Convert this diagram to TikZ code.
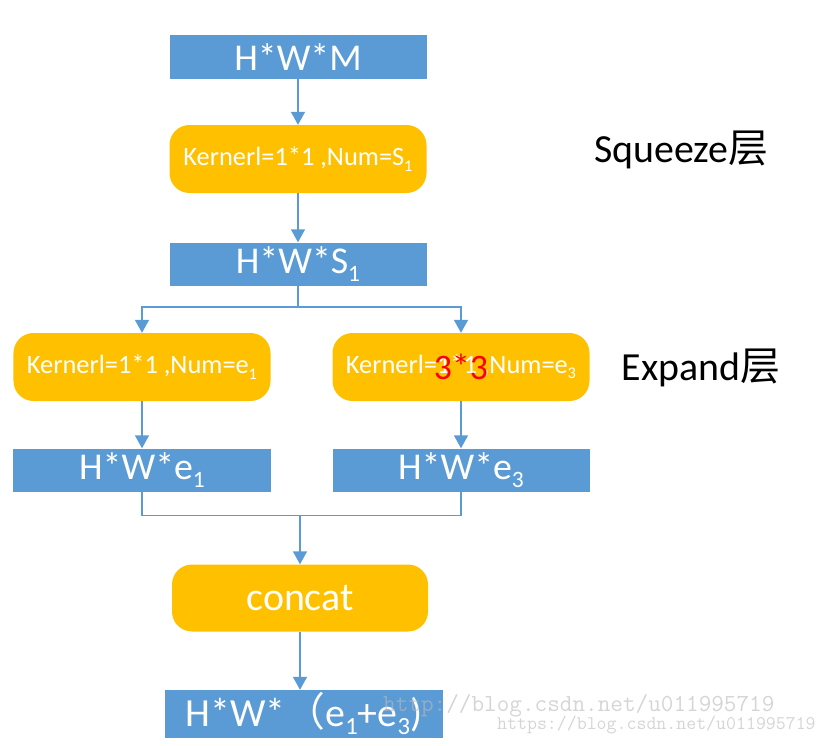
\documentclass[tikz,border=0pt]{standalone}
\usepackage{fontspec}
\setmainfont{Carlito}
\newfontfamily\cjk{Noto Sans CJK SC}
\usetikzlibrary{arrows.meta, positioning, calc}
\definecolor{boxblue}{HTML}{5B9BD5}
\definecolor{boxorange}{HTML}{FFC000}
\newcommand{\sub}[1]{\raisebox{-0.2em}{\scalebox{0.62}{#1}}}
\begin{document}
\begin{tikzpicture}[x=1bp, y=-1bp]
\tikzstyle{blk} = [rectangle, fill=boxblue, text=white, minimum width=257bp, minimum height=43bp, inner sep=0pt, font=\fontsize{38}{38}\selectfont]
\tikzstyle{kern} = [rectangle, rounded corners=20bp, fill=boxorange, text=white, minimum width=257bp, minimum height=68bp, inner sep=0pt, font=\fontsize{26.5}{26.5}\selectfont]
\tikzstyle{lbl} = [font=\fontsize{40}{40}\selectfont, text=black]
\tikzstyle{ln} = [draw=boxblue, line width=1.6bp]
\tikzstyle{arr} = [ln, -{Triangle[width=14bp,length=13bp]}]
\tikzstyle{wmark} = [anchor=west, inner sep=0pt, text=gray!55, text opacity=0.6, font=\ttfamily]
\clip (0,0) rectangle (828,746);
% squeeze
\node[blk] (m) at (298,57) {H*W*M};
\node[kern] (k0) at (298,159) {Kernerl=1*1 ,Num=S\sub{1}};
\node[blk] (s1) at (298,264) {H*W*S\sub{1}};
% expand
\node[kern] (kl) at (142,367) {Kernerl=1*1 ,Num=e\sub{1}};
\node[kern] (kr) at (461,367) {Kernerl=1*1 ,Num=e\sub{3}};
\node[text=red, font=\fontsize{36}{36}\selectfont] (red) at (461,367) {3*3};
\node[blk] (el) at (142,470) {H*W*e\sub{1}};
\node[blk] (er) at (461,470) {H*W*e\sub{3}};
% concat
\node[kern, font=\fontsize{40}{40}\selectfont, minimum width=256bp, minimum height=67bp] (cat) at (300,598) {concat};
\node[blk, minimum width=278bp, minimum height=48bp, font=\fontsize{40}{40}\selectfont] (out) at (304,714) {H*W*{\cjk （}e\sub{1}+e\sub{3})};
% layer names
\node[lbl] (sq) at (681,150) {Squeeze{\cjk 层}};
\node[lbl] (ex) at (701,368) {Expand{\cjk 层}};
% connectors
\coordinate (split) at ($(s1.south)+(0,21)$);
\coordinate (merge) at ($(cat.north)+(0,-49)$);
\draw[arr] (m) -- (k0);
\draw[arr] (k0) -- (s1);
\draw[ln] (s1.south) -- (split);
\foreach \k in {kl, kr} {
    \draw[arr] (split) -| (\k.north);
}
\draw[arr] (kl) -- (el);
\draw[arr] (kr) -- (er);
\draw[ln] (el.south) |- (merge) -| (er.south);
\draw[arr] (merge) -- (cat.north);
\draw[arr] (cat.south) -- (out.north -| cat);
% watermark
\node[wmark, font=\ttfamily\fontsize{24.6}{24.6}\selectfont] (wm1) at (383,706) {http://blog.csdn.net/u011995719};
\node[wmark, font=\ttfamily\fontsize{19.4}{19.4}\selectfont] (wm2) at (497,725) {https://blog.csdn.net/u011995719};
\end{tikzpicture}
\end{document}
